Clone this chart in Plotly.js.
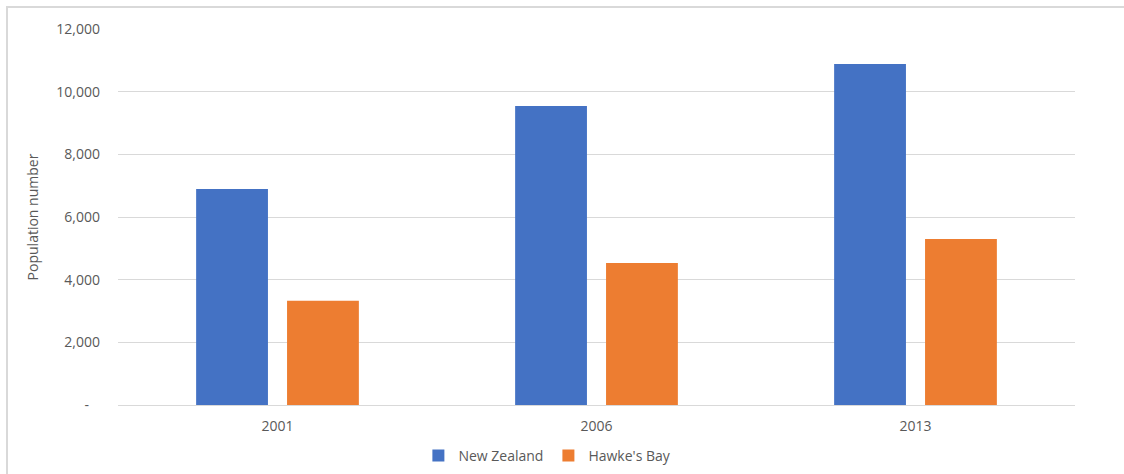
<!DOCTYPE html>
<html>
<head>
<meta charset="utf-8">
<script src="https://cdn.plot.ly/plotly-3.0.1.min.js"></script>
<style>
  html, body { margin: 0; padding: 0; background: #fff; }
  #chart { width: 1124px; height: 474px; }
  #frame { position: absolute; left: 6px; top: 6px; width: 1200px; height: 600px;
           border-left: 2px solid #d9d9d9; border-top: 2px solid #d9d9d9; pointer-events: none; }
</style>
</head>
<body>
<div id="chart"></div>
<div id="frame"></div>
<script>
const years = ['2001', '2006', '2013'];
const newZealand = [6890, 9540, 10885];
const hawkesBay = [3330, 4530, 5295];
const yTickVals = [0, 2000, 4000, 6000, 8000, 10000, 12000];
const yTickText = ['-\u00a0\u00a0\u00a0', '2,000', '4,000', '6,000', '8,000', '10,000', '12,000'];

const font = { family: 'Open Sans, sans-serif', size: 14, color: '#595959' };

const traces = [
  { type: 'bar', name: 'New Zealand', x: years, y: newZealand,
    marker: { color: '#4472c4' }, hoverinfo: 'x+y' },
  { type: 'bar', name: "Hawke's Bay", x: years, y: hawkesBay,
    marker: { color: '#ed7d31' }, hoverinfo: 'x+y' }
];

const layout = {
  width: 1124, height: 474,
  margin: { l: 118, r: 49, t: 29, b: 69, pad: 0, autoexpand: false },
  paper_bgcolor: '#ffffff', plot_bgcolor: '#ffffff',
  font: font,
  barmode: 'group', bargap: 0.43, bargroupgap: 0.21,
  showlegend: true,
  legend: { orientation: 'h', x: 0.487, xanchor: 'center', xref: 'container',
            y: 0.038, yanchor: 'middle', yref: 'container',
            font: font, itemwidth: 30, traceorder: 'normal' },
  xaxis: { type: 'category', showgrid: false, showline: true, linecolor: '#d9d9d9', linewidth: 1,
           ticks: '', ticklabelstandoff: 8, tickfont: font, fixedrange: true },
  yaxis: { range: [0, 12000], tickvals: yTickVals, ticktext: yTickText,
           showgrid: true, gridcolor: '#d9d9d9', gridwidth: 1, zeroline: false, showline: false,
           ticks: '', ticklabelstandoff: 17, tickfont: font, fixedrange: true,
           title: { text: 'Population number', font: font, standoff: 14 } }
};

Plotly.newPlot('chart', traces, layout, { displayModeBar: false, staticPlot: true });
</script>
</body>
</html>
